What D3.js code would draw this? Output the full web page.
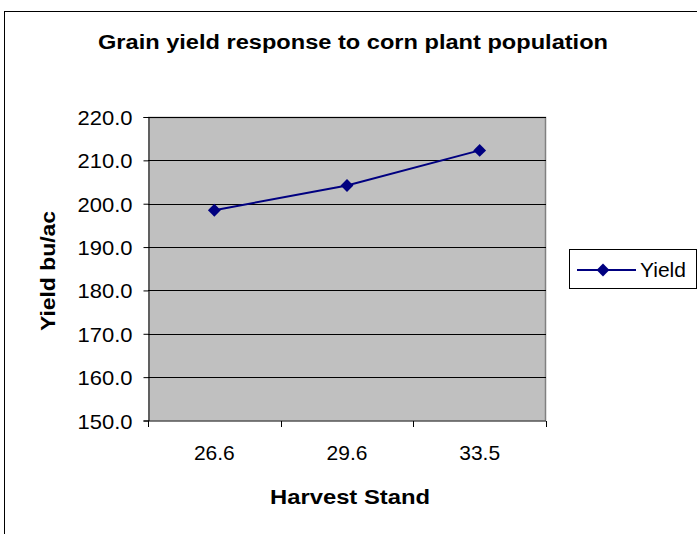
<!DOCTYPE html>
<html>
<head>
<meta charset="utf-8">
<script src="https://cdn.jsdelivr.net/npm/d3@7"></script>
<style>
body { margin: 0; background: #fff; }
svg { display: block; font-family: "Liberation Sans", Arial, sans-serif; }
</style>
</head>
<body>
<div id="chart"></div>
<script>
var w = 697, h = 534;

var stands = ["26.6", "29.6", "33.5"];
var yields = [198.5, 204.2, 212.3];
var yTicks = [150, 160, 170, 180, 190, 200, 210, 220];
var seriesName = "Yield";

var pLeft = 148, pTop = 117, pRight = 546, pBottom = 420.5;

var svg = d3.select("#chart").append("svg").attr("width", w).attr("height", h);

// outer chart border, runs off right and bottom
svg.append("rect").attr("x", 4.5).attr("y", 11.5).attr("width", 800).attr("height", 600)
  .attr("fill", "#fff").attr("stroke", "#000").attr("stroke-width", 1);

svg.append("text").attr("x", 353).attr("y", 49).attr("text-anchor", "middle")
  .attr("textLength", 510).attr("lengthAdjust", "spacingAndGlyphs")
  .style("font-size", "20px").style("font-weight", "bold").text("Grain yield response to corn plant population");

var x = d3.scaleBand().domain(stands).range([pLeft, pRight]);
var y = d3.scaleLinear().domain([150, 220]).range([pBottom, pTop]);

svg.append("rect").attr("x", pLeft).attr("y", pTop).attr("width", pRight - pLeft).attr("height", pBottom - pTop)
  .attr("fill", "#c0c0c0");
svg.append("path").attr("d", "M" + pLeft + "," + (pTop + 0.5) + "H" + (pRight - 0.5) + "V" + pBottom)
  .attr("fill", "none").attr("stroke", "#808080").attr("stroke-width", 1.5);

// gridlines
svg.append("g").selectAll("line").data(yTicks.slice(1)).join("line")
  .attr("x1", pLeft).attr("x2", pRight)
  .attr("y1", function (d) { return Math.round(y(d)) + 0.5; })
  .attr("y2", function (d) { return Math.round(y(d)) + 0.5; })
  .attr("stroke", "#000").attr("stroke-width", 1);

var yAxis = svg.append("g").attr("transform", "translate(" + (pLeft + 0.5) + ",0)")
  .call(d3.axisLeft(y).tickValues(yTicks).tickFormat(d3.format(".1f")).tickSize(5).tickPadding(11));
yAxis.selectAll("text").style("font-size", "21px").style("fill", "#000").attr("dy", "0.36em")
  .attr("textLength", 55).attr("lengthAdjust", "spacingAndGlyphs");
yAxis.selectAll("line,path").attr("stroke", "#000");

var xAxis = svg.append("g").attr("transform", "translate(0," + (pBottom + 0.5) + ")")
  .call(d3.axisBottom(x).tickSize(0));
xAxis.selectAll("text").style("font-size", "21px").style("fill", "#000").attr("y", 39).attr("dy", 0);
xAxis.select("path").attr("stroke", "#000").attr("d", "M" + pLeft + ",0H" + pRight);
// category boundary ticks
xAxis.selectAll(".sep").data(stands.concat([null])).join("line").attr("class", "sep")
  .attr("x1", function (d, i) { return Math.round(pLeft + i * x.step()) + 0.5; })
  .attr("x2", function (d, i) { return Math.round(pLeft + i * x.step()) + 0.5; })
  .attr("y1", 0).attr("y2", 6).attr("stroke", "#000");

svg.append("text").attr("x", 350).attr("y", 504).attr("text-anchor", "middle")
  .attr("textLength", 160).attr("lengthAdjust", "spacingAndGlyphs")
  .style("font-size", "21px").style("font-weight", "bold").text("Harvest Stand");

svg.append("text").attr("transform", "translate(55,271) rotate(-90)").attr("text-anchor", "middle")
  .attr("textLength", 120).attr("lengthAdjust", "spacingAndGlyphs")
  .style("font-size", "21px").style("font-weight", "bold").text("Yield bu/ac");

var line = d3.line()
  .x(function (d, i) { return x(stands[i]) + x.bandwidth() / 2; })
  .y(function (d) { return y(d); });

svg.append("path").datum(yields).attr("d", line).attr("fill", "none")
  .attr("stroke", "#000080").attr("stroke-width", 2);

var diamond = d3.symbol().type(d3.symbolDiamond2).size(105);
svg.append("g").selectAll("path").data(yields).join("path")
  .attr("d", diamond)
  .attr("transform", function (d, i) { return "translate(" + (x(stands[i]) + x.bandwidth() / 2) + "," + y(d) + ")"; })
  .attr("fill", "#000080");

// legend
var lg = svg.append("g");
lg.append("rect").attr("x", 569.5).attr("y", 249.5).attr("width", 127).attr("height", 39)
  .attr("fill", "#fff").attr("stroke", "#000");
lg.append("line").attr("x1", 577).attr("x2", 636).attr("y1", 270).attr("y2", 270)
  .attr("stroke", "#000080").attr("stroke-width", 2);
lg.append("path").attr("d", diamond).attr("transform", "translate(603,270)").attr("fill", "#000080");
lg.append("text").attr("x", 640).attr("y", 277).style("font-size", "21px").text(seriesName);
</script>
</body>
</html>
